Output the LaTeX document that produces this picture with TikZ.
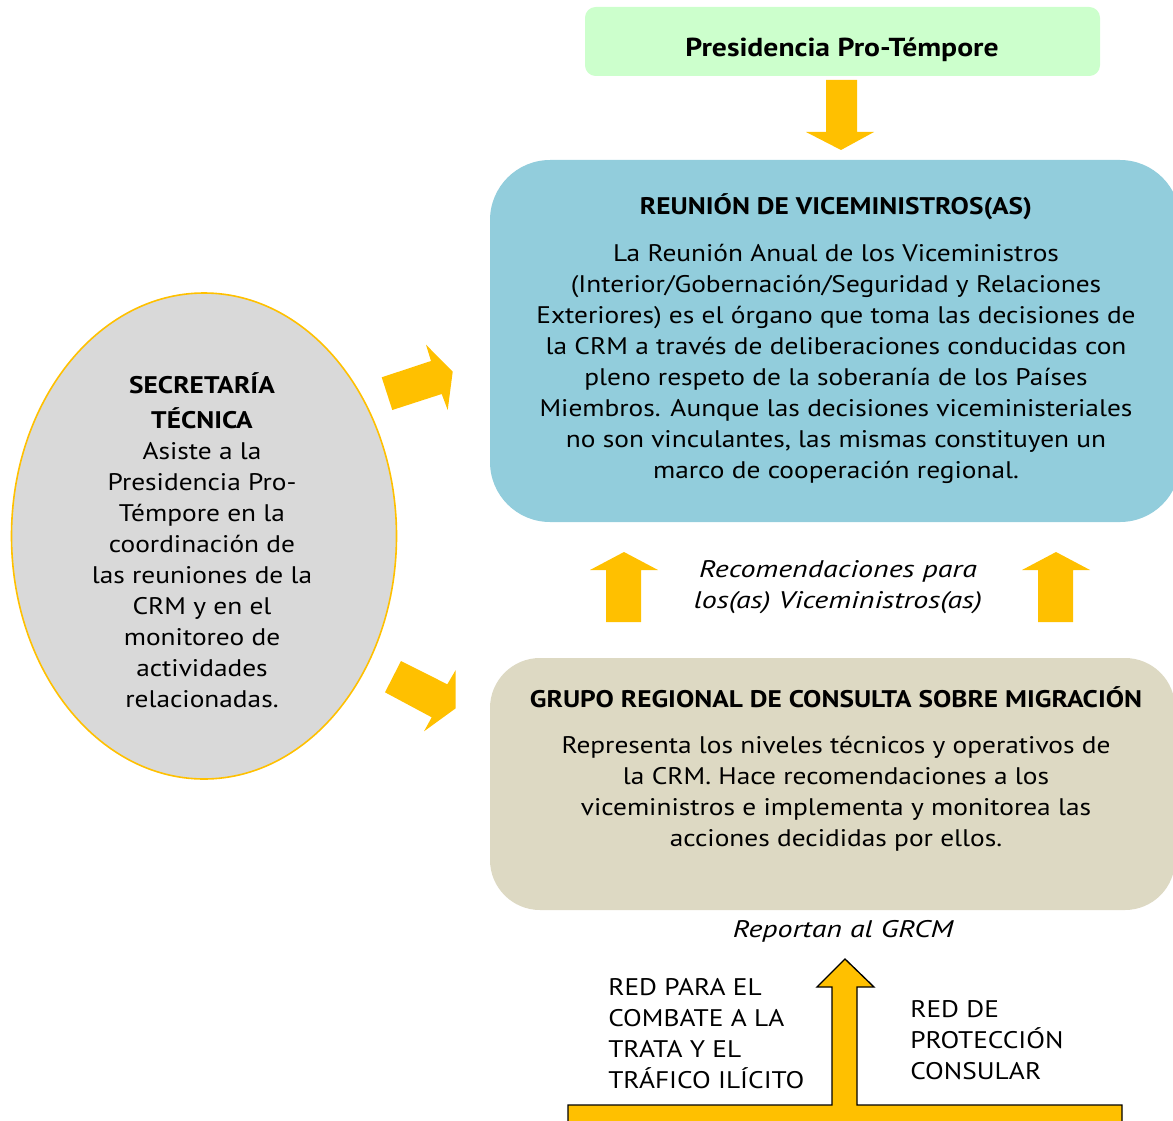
\documentclass[tikz,border=0pt]{standalone}
\usepackage{fontspec}
\setmainfont{PT Sans}[FakeStretch=1.14,
  BoldFeatures={FakeStretch=1.14},
  ItalicFeatures={FakeStretch=1.25}]
\usetikzlibrary{shapes.geometric}

\definecolor{gold}{HTML}{FFC000}
\definecolor{mintgreen}{HTML}{CCFFCC}
\definecolor{skyblue}{HTML}{92CDDC}
\definecolor{sand}{HTML}{DDD9C3}
\definecolor{lightgray}{HTML}{D9D9D9}

\begin{document}
\begin{tikzpicture}[
  x=0.75pt, y=-0.75pt,
  panel/.style={inner sep=0pt, rounded corners=45pt},
  label/.style={inner sep=0pt, align=center, font=\fontsize{18}{23.25}\selectfont},
  blockarrow/.style={fill=gold}
]
\useasboundingbox (0,0) rectangle (1173,1120);
\clip (0,0) rectangle (1173,1120);

% Nodes
\node[panel, fill=mintgreen, rounded corners=8pt, minimum width=386.25pt, minimum height=51.75pt] (ppt) at (842.5,41.5) {};
\node[panel, fill=skyblue, minimum width=517.5pt, minimum height=271.5pt] (rvm) at (835,341) {};
\node[panel, fill=sand, rounded corners=37.5pt, minimum width=513.75pt, minimum height=189pt] (grcm) at (832.5,784) {};
\node[ellipse, draw=gold, fill=lightgray, line width=1.2pt, minimum width=288.75pt, minimum height=364.5pt, inner sep=0pt] (st) at (204,536) {};

\node[label, font=\fontsize{19.5}{23.25}\selectfont\bfseries] (ppttext) at (842,50) {Presidencia Pro-Témpore};
\node[label] (rvmtext) at (836,339) {{\bfseries REUNIÓN DE VICEMINISTROS(AS)}\\[12pt]
  La Reunión Anual de los Viceministros\\
  (Interior/Gobernación/Seguridad y Relaciones\\
  Exteriores) es el órgano que toma las decisiones de\\
  la CRM a través de deliberaciones conducidas con\\
  pleno respeto de la soberanía de los Países\\
  Miembros. Aunque las decisiones viceministeriales\\
  no son vinculantes, las mismas constituyen un\\
  marco de cooperación regional.};
\node[label] (grcmtext) at (836,769) {{\bfseries GRUPO REGIONAL DE CONSULTA SOBRE MIGRACIÓN}\\[11pt]
  Representa los niveles técnicos y operativos de\\
  la CRM. Hace recomendaciones a los\\
  viceministros e implementa y monitorea las\\
  acciones decididas por ellos.};
\node[label] (sttext) at (202,540) {{\bfseries SECRETARÍA}\\[3pt]
  {\bfseries TÉCNICA}\\
  Asiste a la\\
  Presidencia Pro-\\
  Témpore en la\\
  coordinación de\\
  las reuniones de la\\
  CRM y en el\\
  monitoreo de\\
  actividades\\
  relacionadas.};
\node[label, font=\fontsize{18}{23.25}\selectfont\itshape] (rec) at (838,587) {Recomendaciones para\\los(as) Viceministros(as)};
\node[label, font=\fontsize{18}{23.25}\selectfont\itshape] (rep) at (843,931) {Reportan al GRCM};
\node[label, align=left, anchor=west] (trata) at (608,1034) {RED PARA EL\\COMBATE A LA\\TRATA Y EL\\TRÁFICO ILÍCITO};
\node[label, align=left, anchor=west] (consular) at (910,1040) {RED DE\\PROTECCIÓN\\CONSULAR};

% Arrows
\fill[blockarrow] (826,80) -- (857,80) -- (857,132) -- (874,132) -- (841,150) -- (806,132) -- (826,132) -- cycle;
\fill[blockarrow] (606,622) -- (606,570) -- (590,570) -- (624,552) -- (658,570) -- (641,570) -- (641,622) -- cycle;
\fill[blockarrow] (1038,622) -- (1038,570) -- (1022,570) -- (1056,552) -- (1090,570) -- (1073,570) -- (1073,622) -- cycle;
\fill[blockarrow] (381.7,377.3) -- (431,361) -- (426,344.7) -- (452.7,371.7) -- (447.7,410) -- (441.7,394) -- (392.3,410) -- cycle;
\fill[blockarrow] (401,661) -- (447.3,684.3) -- (455.7,670) -- (455.7,708.3) -- (424,731.3) -- (431.7,717.3) -- (385,692.3) -- cycle;
\filldraw[blockarrow, draw=black, line width=1pt] (568,1130) -- (568,1105) -- (832,1105) -- (832,987) -- (817,987) -- (845,959) -- (874,987) -- (857,987) -- (857,1105) -- (1122,1105) -- (1122,1130);

\end{tikzpicture}
\end{document}
